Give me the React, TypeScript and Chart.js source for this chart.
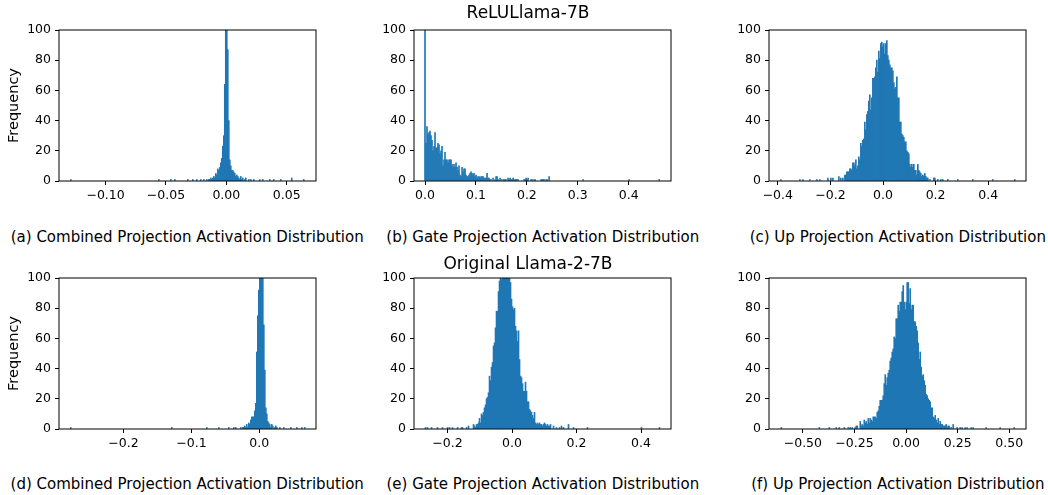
import React, { useEffect, useRef } from "react";
import { Chart, registerables } from "chart.js";

Chart.register(...registerables);

const BLUE = "#1f77b4";
const FONT = "DejaVu Sans";
const Y_TICKS = [0, 20, 40, 60, 80, 100];

// ---------- (a) ReLULlama-7B, combined projection ----------
const A_START = -0.01616;
const A_WIDTH = 0.000828;
const A_COUNTS = [1, 0, 1, 1, 2, 1, 2, 3, 2, 5, 4, 8, 7, 9, 12, 15, 23, 30, 64, 130, 130, 87, 40, 14, 10, 7, 7, 6, 5, 3, 4, 3, 2, 1, 3, 1, 2, 0, 1, 2];
const A_TAIL_X = [-0.129, -0.056, -0.046, -0.043, -0.032, -0.028, -0.0245, -0.021, -0.0185, 0.0185, 0.0205, 0.023, 0.028, 0.03, 0.036, 0.039, 0.045, 0.054, 0.064];
const A_TAIL_Y = [1, 1, 1, 1, 1, 1, 1, 1, 1, 1, 1, 1, 1, 1, 1, 1, 1, 2, 1];
const A_RANGE = [-0.1386, 0.0743];
const A_TICKS = [-0.1, -0.05, 0, 0.05];
const A_LABELS = ["\u22120.10", "\u22120.05", "0.00", "0.05"];

// ---------- (b) ReLULlama-7B, gate projection ----------
const B_START = 0;
const B_WIDTH = 0.001965;
const B_COUNTS = [130, 25, 36, 31, 32, 33, 30, 27, 20, 23, 32, 22, 22, 25, 24, 18, 20, 23, 10, 14, 19, 14, 14, 12, 14, 14, 14, 11, 9, 11, 9, 12, 9, 7, 10, 4, 3, 9, 6, 8, 8, 4, 3, 3, 4, 5, 6, 5, 4, 5, 3, 4, 2, 3, 3, 2, 3, 3, 3, 2, 2, 2, 5, 2, 2, 1, 1, 0, 2, 0, 1, 3, 3, 1, 0, 2, 1, 0, 1, 1, 1, 1, 0, 2, 1, 2, 1, 1, 2, 1, 1, 1, 1, 1, 0];
const B_TAIL_X = [0.1939, 0.1959, 0.1978, 0.1998, 0.2018, 0.2083, 0.2102, 0.2141, 0.2161, 0.2279, 0.2298, 0.2318, 0.2338, 0.2377, 0.2397, 0.2436, 0.311, 0.401, 0.46];
const B_TAIL_Y = [1, 1, 2, 1, 2, 1, 1, 1, 1, 1, 1, 1, 1, 1, 1, 3, 1, 1, 1];
const B_RANGE = [-0.0216, 0.483];
const B_TICKS = [0, 0.1, 0.2, 0.3, 0.4];
const B_LABELS = ["0.0", "0.1", "0.2", "0.3", "0.4"];

// ---------- (c) ReLULlama-7B, up projection ----------
const C_START = -0.145;
const C_WIDTH = 0.0038;
const C_COUNTS = [4, 4, 6, 6, 6, 8, 8, 7, 12, 12, 10, 14, 8, 10, 16, 14, 25, 23, 27, 28, 39, 34, 44, 46, 53, 57, 47, 55, 68, 68, 69, 75, 80, 72, 86, 81, 91, 92, 89, 91, 84, 91, 93, 83, 80, 77, 75, 75, 73, 65, 61, 62, 69, 55, 55, 39, 39, 31, 30, 29, 26, 26, 20, 19, 18, 11, 9, 11, 9, 11, 7, 7, 4, 11, 7, 6, 5, 3, 4, 3, 5, 3, 2, 2];
const C_TAIL_X = [-0.389, -0.317, -0.306, -0.279, -0.252, -0.241, -0.21, -0.2, -0.19, -0.168, -0.16, -0.152, 0.178, 0.193, 0.197, 0.208, 0.22, 0.227, 0.246, 0.284, 0.341, 0.417, 0.4996];
const C_TAIL_Y = [1, 1, 1, 1, 1, 1, 2, 2, 2, 3, 2, 2, 1, 2, 2, 1, 1, 1, 1, 1, 1, 1, 1];
const C_RANGE = [-0.4335, 0.5437];
const C_TICKS = [-0.4, -0.2, 0, 0.2, 0.4];
const C_LABELS = ["\u22120.4", "\u22120.2", "0.0", "0.2", "0.4"];

// ---------- (d) Original Llama-2-7B, combined projection ----------
const D_START = -0.02725;
const D_WIDTH = 0.001473;
const D_COUNTS = [1, 0, 1, 1, 2, 1, 3, 1, 4, 3, 6, 8, 8, 8, 12, 17, 51, 75, 92, 130, 130, 130, 130, 69, 39, 14, 10, 5, 4, 3, 1, 3, 2, 0, 1, 2, 1];
const D_TAIL_X = [-0.278, -0.1286, -0.077, -0.06, -0.045, -0.0379, -0.0339, 0.0295, 0.0358, 0.0457, 0.0555, 0.0629, 0.0663];
const D_TAIL_Y = [1, 1, 1, 1, 1, 1, 1, 1, 1, 1, 1, 1, 1];
const D_RANGE = [-0.295, 0.0835];
const D_TICKS = [-0.2, -0.1, 0];
const D_LABELS = ["\u22120.2", "\u22120.1", "0.0"];

// ---------- (e) Original Llama-2-7B, gate projection ----------
const E_START = -0.1193;
const E_WIDTH = 0.0031;
const E_COUNTS = [3, 2, 1, 3, 3, 4, 7, 4, 10, 9, 11, 14, 16, 20, 21, 24, 35, 32, 41, 44, 55, 57, 67, 78, 78, 91, 98, 130, 99, 130, 130, 130, 130, 130, 130, 130, 130, 97, 86, 81, 79, 80, 68, 65, 58, 65, 46, 35, 34, 30, 25, 25, 31, 25, 18, 18, 13, 12, 11, 9, 7, 11, 4, 3, 4, 3, 4, 3, 3, 2, 3, 4, 3, 2, 3, 2, 2, 3];
const E_TAIL_X = [-0.268, -0.262, -0.25, -0.23, -0.215, -0.2, -0.193, -0.184, -0.168, -0.156, -0.153, -0.14, -0.134, 0.128, 0.138, 0.148, 0.155, 0.16, 0.176, 0.19, 0.235, 0.4, 0.458];
const E_TAIL_Y = [1, 1, 1, 1, 1, 1, 1, 1, 1, 1, 1, 1, 2, 2, 1, 1, 2, 1, 3, 1, 1, 1, 1];
const E_RANGE = [-0.3039, 0.493];
const E_TICKS = [-0.2, 0, 0.2, 0.4];
const E_LABELS = ["\u22120.2", "0.0", "0.2", "0.4"];

// ---------- (f) Original Llama-2-7B, up projection ----------
const F_START = -0.2219;
const F_WIDTH = 0.00484;
const F_COUNTS = [5, 2, 3, 2, 6, 4, 5, 3, 7, 4, 7, 6, 5, 8, 8, 8, 7, 11, 12, 15, 19, 19, 19, 22, 30, 36, 29, 34, 37, 39, 45, 47, 51, 53, 61, 60, 73, 73, 82, 78, 84, 84, 91, 95, 84, 79, 84, 97, 97, 83, 93, 79, 82, 82, 71, 71, 68, 65, 57, 46, 51, 41, 35, 36, 32, 29, 23, 22, 20, 19, 18, 14, 14, 8, 7, 9, 6, 4, 7, 3, 5, 3, 3, 2, 2, 2, 3, 1, 2, 2];
const F_TAIL_X = [-0.604, -0.419, -0.37, -0.337, -0.322, -0.297, -0.282, -0.27, -0.26, -0.248, -0.239, -0.234, 0.219, 0.228, 0.246, 0.26, 0.27, 0.284, 0.298, 0.313, 0.323, 0.39, 0.454, 0.525];
const F_TAIL_Y = [1, 1, 1, 1, 1, 1, 1, 1, 1, 1, 2, 2, 1, 3, 1, 1, 1, 1, 1, 1, 1, 1, 1, 1];
const F_RANGE = [-0.664, 0.581];
const F_TICKS = [-0.5, -0.25, 0, 0.25, 0.5];
const F_LABELS = ["\u22120.50", "\u22120.25", "0.00", "0.25", "0.50"];

const CAPTIONS = [
  "(a) Combined Projection Activation Distribution",
  "(b) Gate Projection Activation Distribution",
  "(c) Up Projection Activation Distribution",
  "(d) Combined Projection Activation Distribution",
  "(e) Gate Projection Activation Distribution",
  "(f) Up Projection Activation Distribution",
];
const ROW_TITLES = ["ReLULlama-7B", "Original Llama-2-7B"];

// ---------- layout ----------
const COL_LEFT = [58.7, 414.3, 769.3];
const ROW_TOP = [30, 278.3];
const PLOT_W = 257;
const PLOT_H = 151;
const YW = 52;
const YW_FIRST = 59;
const PAD_T = 12;
const PAD_R = 20;
const XH = 30;

function buildBins(start: number, width: number, counts: number[], tailX: number[], tailY: number[]) {
  const map = new Map<number, number>();
  counts.forEach((c, i) => {
    if (c > 0) map.set(i, c);
  });
  tailX.forEach((v, j) => {
    const k = Math.round((v - start) / width);
    map.set(k, (map.get(k) || 0) + tailY[j]);
  });
  return [...map.entries()]
    .sort((a, b) => a[0] - b[0])
    .map(([k, c]) => ({ x: start + k * width, y: c }));
}

const framePlugin = {
  id: "frame",
  afterDatasetsDraw(chart: any) {
    const { ctx, chartArea: a } = chart;
    ctx.save();
    ctx.strokeStyle = "#000";
    ctx.lineWidth = 1;
    ctx.strokeRect(a.left, a.top, a.right - a.left, a.bottom - a.top);
    ctx.restore();
  },
};

type Spec = {
  col: number;
  row: number;
  start: number;
  width: number;
  counts: number[];
  tailX: number[];
  tailY: number[];
  range: number[];
  ticks: number[];
  labels: string[];
};

const SPECS: Spec[] = [
  { col: 0, row: 0, start: A_START, width: A_WIDTH, counts: A_COUNTS, tailX: A_TAIL_X, tailY: A_TAIL_Y, range: A_RANGE, ticks: A_TICKS, labels: A_LABELS },
  { col: 1, row: 0, start: B_START, width: B_WIDTH, counts: B_COUNTS, tailX: B_TAIL_X, tailY: B_TAIL_Y, range: B_RANGE, ticks: B_TICKS, labels: B_LABELS },
  { col: 2, row: 0, start: C_START, width: C_WIDTH, counts: C_COUNTS, tailX: C_TAIL_X, tailY: C_TAIL_Y, range: C_RANGE, ticks: C_TICKS, labels: C_LABELS },
  { col: 0, row: 1, start: D_START, width: D_WIDTH, counts: D_COUNTS, tailX: D_TAIL_X, tailY: D_TAIL_Y, range: D_RANGE, ticks: D_TICKS, labels: D_LABELS },
  { col: 1, row: 1, start: E_START, width: E_WIDTH, counts: E_COUNTS, tailX: E_TAIL_X, tailY: E_TAIL_Y, range: E_RANGE, ticks: E_TICKS, labels: E_LABELS },
  { col: 2, row: 1, start: F_START, width: F_WIDTH, counts: F_COUNTS, tailX: F_TAIL_X, tailY: F_TAIL_Y, range: F_RANGE, ticks: F_TICKS, labels: F_LABELS },
];

function Panel({ spec }: { spec: Spec }) {
  const ref = useRef<HTMLCanvasElement>(null);
  const first = spec.col === 0;
  const yw = first ? YW_FIRST : YW;

  useEffect(() => {
    const data = buildBins(spec.start, spec.width, spec.counts, spec.tailX, spec.tailY);
    const chart = new Chart(ref.current as HTMLCanvasElement, {
      type: "bar",
      data: {
        datasets: [
          {
            data: data as any,
            backgroundColor: BLUE,
            borderWidth: 0,
            barPercentage: 1,
            categoryPercentage: 1,
          },
        ],
      },
      options: {
        animation: false,
        responsive: true,
        maintainAspectRatio: false,
        devicePixelRatio: 1,
        layout: { padding: { left: 0, top: PAD_T, right: PAD_R, bottom: 0 } },
        plugins: { legend: { display: false }, tooltip: { enabled: false } },
        events: [],
        scales: {
          x: {
            type: "linear",
            min: spec.range[0],
            max: spec.range[1],
            offset: false,
            afterBuildTicks: (scale: any) => {
              scale.ticks = spec.ticks.map((v) => ({ value: v }));
            },
            afterFit: (scale: any) => {
              scale.height = XH;
            },
            grid: { display: true, offset: false, drawOnChartArea: false, drawTicks: true, tickLength: 4, color: "#000", lineWidth: 1 },
            border: { display: false },
            ticks: {
              autoSkip: false,
              maxRotation: 0,
              minRotation: 0,
              padding: 3,
              color: "#000",
              font: { family: FONT, size: 12.5 },
              callback: (_v: any, i: number) => spec.labels[i],
            },
          },
          y: {
            type: "linear",
            min: 0,
            max: 100,
            afterBuildTicks: (scale: any) => {
              scale.ticks = Y_TICKS.map((v) => ({ value: v }));
            },
            afterFit: (scale: any) => {
              scale.width = yw;
            },
            grid: { display: true, drawOnChartArea: false, drawTicks: true, tickLength: 4, color: "#000", lineWidth: 1 },
            border: { display: false },
            ticks: {
              padding: 4,
              color: "#000",
              font: { family: FONT, size: 12.5 },
              callback: (v: any) => String(v),
            },
            title: {
              display: first,
              text: "Frequency",
              color: "#000",
              font: { family: FONT, size: 14.5 },
              padding: { top: 5.5, bottom: 0 },
            },
          },
        },
      },
      plugins: [framePlugin],
    });
    return () => chart.destroy();
  }, []);

  const left = COL_LEFT[spec.col] - yw;
  const top = ROW_TOP[spec.row] - PAD_T;
  return (
    <div
      style={{
        position: "absolute",
        left,
        top,
        width: yw + PLOT_W + PAD_R,
        height: PAD_T + PLOT_H + XH,
      }}
    >
      <canvas ref={ref} />
    </div>
  );
}

const CAPTION_TOP = [227.1, 474.1];
const TITLE_TOP = [0.5, 252.4];

export default function App() {
  return (
    <div
      style={{
        position: "absolute",
        left: 0,
        top: 0,
        width: 1048,
        height: 495,
        overflow: "hidden",
        background: "#fff",
        fontFamily: FONT,
        color: "#000",
      }}
    >
      {SPECS.map((s, i) => (
        <Panel key={i} spec={s} />
      ))}
      {SPECS.map((s, i) => (
        <div
          key={"c" + i}
          style={{
            position: "absolute",
            left: COL_LEFT[s.col] + PLOT_W / 2 - 300,
            width: 600,
            top: CAPTION_TOP[s.row],
            height: 20,
            lineHeight: "20px",
            fontSize: 15,
            textAlign: "center",
            whiteSpace: "nowrap",
          }}
        >
          {CAPTIONS[i]}
        </div>
      ))}
      {ROW_TITLES.map((t, r) => (
        <div
          key={"t" + r}
          style={{
            position: "absolute",
            left: 528 - 200,
            width: 400,
            top: TITLE_TOP[r],
            height: 22,
            lineHeight: "22px",
            fontSize: 17,
            textAlign: "center",
            whiteSpace: "nowrap",
          }}
        >
          {t}
        </div>
      ))}
    </div>
  );
}
